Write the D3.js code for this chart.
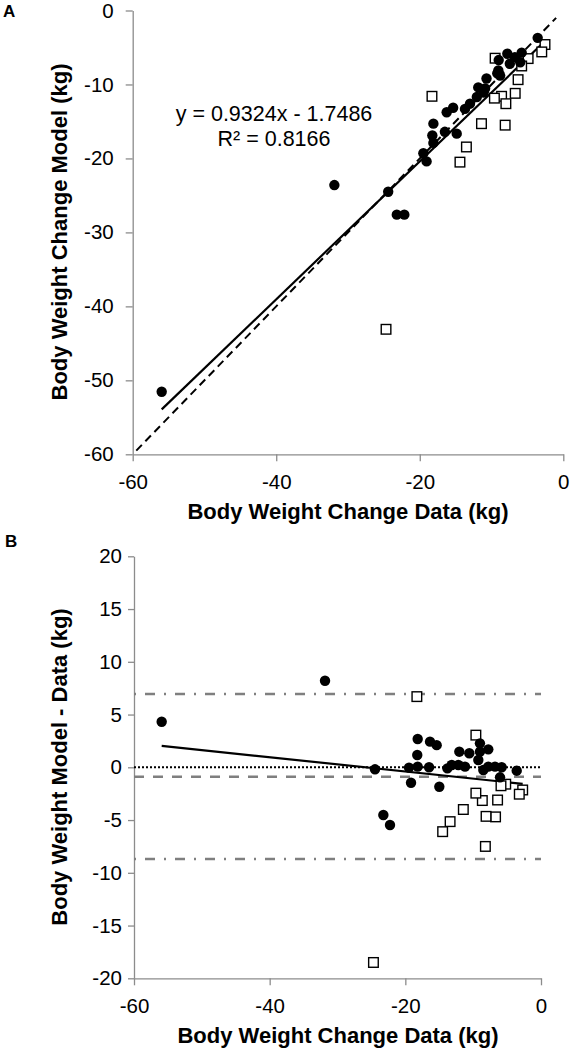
<!DOCTYPE html>
<html><head><meta charset="utf-8">
<script src="https://cdn.jsdelivr.net/npm/d3@7"></script>
<style>
body{margin:0;background:#fff}
svg{display:block}
text{font-family:"Liberation Sans",Arial,sans-serif;fill:#000}
</style>
</head><body>
<svg id="chart" width="570" height="1050"></svg>
<script>
// ---------- data ----------
const xTicks = [-60, -40, -20, 0];
const yTicksA = [0, -10, -20, -30, -40, -50, -60];
const yTicksB = [20, 15, 10, 5, 0, -5, -10, -15, -20];

// Panel A: filled circles (data, model)
const circleDataA  = [-55.96,-31.9,-24.4,-23.2,-22.15,-19.5,-19.05,-18.1,-18.25,-18.1,-16.5,-16.25,-15.35,-14.85,-13.7,-13.0,-12.05,-11.85,-11.1,-10.7,-10.9,-9.2,-9.05,-9.0,-7.8,-8.8,-7.45,-6.75,-5.8,-6.0,-3.57];
const circleModelA = [-51.55,-23.6,-24.5,-27.6,-27.6,-19.3,-20.4,-15.3,-16.9,-17.9,-16.4,-13.75,-13.15,-16.65,-13.3,-12.6,-11.7,-10.4,-11.1,-9.2,-10.55,-8.5,-8.1,-6.7,-5.85,-8.8,-7.2,-6.3,-5.7,-7.0,-3.7];
// Panel A: open squares (data, model)
const squareDataA  = [-2.55,-3.0,-4.9,-9.5,-5.8,-6.3,-6.7,-8.6,-9.6,-8.0,-18.3,-11.4,-8.1,-13.5,-14.4,-24.7];
const squareModelA = [-4.6,-5.6,-6.5,-6.45,-7.5,-9.35,-11.2,-11.6,-11.85,-12.6,-11.6,-15.3,-15.5,-18.45,-20.5,-43.1];

// Panel B: filled circles (data, model - data)
const circleDataB = [-55.92,-31.84,-24.47,-23.24,-22.26,-19.46,-19.16,-18.18,-18.24,-18.18,-16.5,-16.36,-15.38,-14.99,-13.8,-13.16,-12.19,-12.04,-11.2,-10.57,-9.24,-9.0,-9.0,-7.77,-8.5,-7.77,-6.78,-5.8,-6.04,-3.58];
const circleDiffB = [4.32,8.2,-0.19,-4.52,-5.47,-0.03,-1.46,2.68,1.17,0.06,0.0,2.43,2.1,-1.84,-0.1,0.22,0.22,1.48,0.06,1.33,0.69,2.27,1.48,1.7,-0.26,0.06,0.06,0.0,-0.95,-0.32];
// Panel B: open squares
const squareDataB = [-2.7,-3.2,-5.2,-9.6,-5.9,-6.4,-6.7,-8.65,-9.6,-8.1,-18.3,-11.45,-8.2,-13.4,-14.5,-24.7];
const squareDiffB = [-2.15,-2.55,-1.6,3.05,-1.75,-3.1,-4.7,-3.15,-2.45,-4.65,6.7,-4.0,-7.5,-5.15,-6.1,-18.5];

// Fit / reference lines
const regSlopeA = 0.9324, regInterceptA = -1.7486;
const regSlopeB = -0.0676, regInterceptB = -1.7486;
const identityRange = [-59.5, -1];
const biasMean = -0.89, loaUpper = 6.95, loaLower = -8.7;
const eqLine1 = "y = 0.9324x - 1.7486";
const eqLine2 = "R² = 0.8166";

// ---------- drawing ----------
const svg = d3.select("#chart");
const axisColor = "#8c8c8c";
const fmt = d => String(d);   // plain hyphen-minus like the reference

function styleAxis(g){
  g.select(".domain").attr("stroke", axisColor).attr("stroke-width", 1.3);
  g.selectAll(".tick line").attr("stroke", axisColor).attr("stroke-width", 1.3);
  g.selectAll(".tick text").attr("font-size", 20.5).attr("fill", "#000")
    .style("font-family", '"Liberation Sans",Arial,sans-serif');
}

function drawMarkers(g, x, y, cx, cy, sx, sy){
  g.selectAll("rect.sq").data(d3.range(sx.length)).join("rect").attr("class","sq")
    .attr("x", i => x(sx[i]) - 4.8).attr("y", i => y(sy[i]) - 4.8)
    .attr("width", 9.6).attr("height", 9.6)
    .attr("fill", "#fff").attr("stroke", "#000").attr("stroke-width", 1.4);
  g.selectAll("circle.c").data(d3.range(cx.length)).join("circle").attr("class","c")
    .attr("cx", i => x(cx[i])).attr("cy", i => y(cy[i])).attr("r", 5.2)
    .attr("fill", "#000");
}

// ===== Panel A =====
const xA = d3.scaleLinear().domain([-60, 0]).range([132.7, 563.3]);
const yA = d3.scaleLinear().domain([-60, 0]).range([454.3, 10.5]);

svg.append("g").attr("transform", `translate(${xA(-60)},0)`)
  .call(d3.axisLeft(yA).tickValues(yTicksA).tickSize(7).tickSizeOuter(0).tickPadding(12).tickFormat(fmt))
  .call(styleAxis);
svg.append("g").attr("transform", `translate(0,${yA(-60)})`)
  .call(d3.axisBottom(xA).tickValues(xTicks).tickSize(7).tickSizeOuter(0).tickPadding(13).tickFormat(fmt))
  .call(styleAxis);

const gA = svg.append("g");
gA.append("line")
  .attr("x1", xA(identityRange[0])).attr("y1", yA(identityRange[0]))
  .attr("x2", xA(identityRange[1])).attr("y2", yA(identityRange[1]))
  .attr("stroke", "#000").attr("stroke-width", 2).attr("stroke-dasharray", "8,5");
const extA = d3.extent(circleDataA.concat(squareDataA));
gA.append("line")
  .attr("x1", xA(extA[0])).attr("y1", yA(regSlopeA*extA[0] + regInterceptA))
  .attr("x2", xA(extA[1])).attr("y2", yA(regSlopeA*extA[1] + regInterceptA))
  .attr("stroke", "#000").attr("stroke-width", 2.2);
drawMarkers(gA, xA, yA, circleDataA, circleModelA, squareDataA, squareModelA);

svg.append("text").attr("x", 274).attr("y", 121).attr("text-anchor","middle")
  .attr("font-size", 21.5).text(eqLine1);
svg.append("text").attr("x", 274).attr("y", 146).attr("text-anchor","middle")
  .attr("font-size", 21.5).text(eqLine2);

svg.append("text").attr("x", 348).attr("y", 519).attr("text-anchor","middle")
  .attr("font-size", 22).attr("font-weight","bold").text("Body Weight Change Data (kg)");
svg.append("text").attr("transform", "translate(67,232) rotate(-90)").attr("text-anchor","middle")
  .attr("font-size", 22).attr("font-weight","bold").text("Body Weight Change Model (kg)");
svg.append("text").attr("x", 3).attr("y", 17).attr("font-size", 17).attr("font-weight","bold").text("A");

// ===== Panel B =====
const xB = d3.scaleLinear().domain([-60, 0]).range([134, 541]);
const yB = d3.scaleLinear().domain([-20, 20]).range([978.3, 556.3]);

svg.append("g").attr("transform", `translate(${xB(-60)},0)`)
  .call(d3.axisLeft(yB).tickValues(yTicksB).tickSize(6).tickSizeOuter(0).tickPadding(6).tickFormat(fmt))
  .call(styleAxis);
svg.append("g").attr("transform", `translate(0,${yB(-20)})`)
  .call(d3.axisBottom(xB).tickValues(xTicks).tickSize(7).tickSizeOuter(0).tickPadding(13).tickFormat(fmt))
  .call(styleAxis);

const gB = svg.append("g");
[loaUpper, loaLower].forEach(v => {
  gB.append("line").attr("x1", xB(-60)).attr("x2", xB(0)).attr("y1", yB(v)).attr("y2", yB(v))
    .attr("stroke", "#7f7f7f").attr("stroke-width", 2.5).attr("stroke-dasharray", "2,9,10,9");
});
gB.append("line").attr("x1", xB(-60)).attr("x2", xB(0)).attr("y1", yB(biasMean)).attr("y2", yB(biasMean))
  .attr("stroke", "#7f7f7f").attr("stroke-width", 2.5).attr("stroke-dasharray", "10,9");
gB.append("line").attr("x1", xB(-60)).attr("x2", xB(0)).attr("y1", yB(0)).attr("y2", yB(0))
  .attr("stroke", "#000").attr("stroke-width", 2).attr("stroke-dasharray", "2,2");
const extB = d3.extent(circleDataB.concat(squareDataB));
gB.append("line")
  .attr("x1", xB(extB[0])).attr("y1", yB(regSlopeB*extB[0] + regInterceptB))
  .attr("x2", xB(extB[1])).attr("y2", yB(regSlopeB*extB[1] + regInterceptB))
  .attr("stroke", "#000").attr("stroke-width", 2.2);
drawMarkers(gB, xB, yB, circleDataB, circleDiffB, squareDataB, squareDiffB);

svg.append("text").attr("x", 338).attr("y", 1043).attr("text-anchor","middle")
  .attr("font-size", 22).attr("font-weight","bold").text("Body Weight Change Data (kg)");
svg.append("text").attr("transform", "translate(67,767) rotate(-90)").attr("text-anchor","middle")
  .attr("font-size", 22).attr("font-weight","bold").text("Body Weight Model - Data (kg)");
svg.append("text").attr("x", 5).attr("y", 547).attr("font-size", 17).attr("font-weight","bold").text("B");
</script>
</body></html>
